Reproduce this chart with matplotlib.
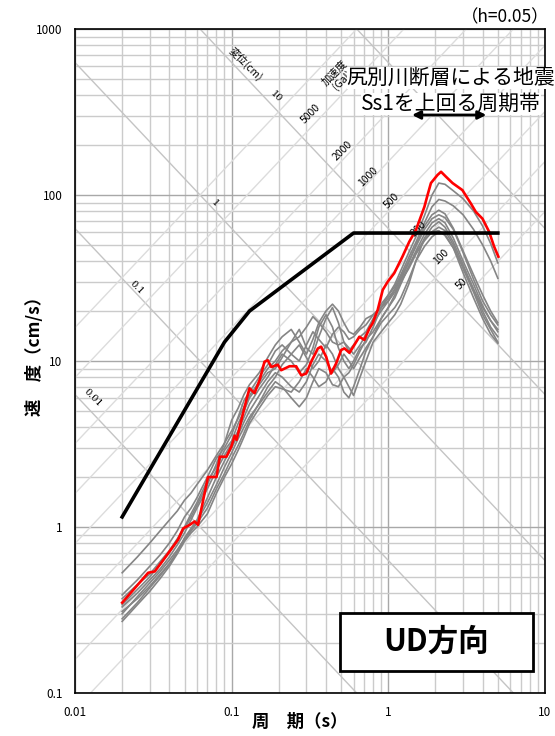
import numpy as np
import matplotlib.pyplot as plt
from matplotlib.patches import Rectangle

plt.rcParams['font.family'] = ['Noto Sans CJK JP', 'DejaVu Sans']

# 周期 (s) for the gray spectra
periods = [0.02, 0.025, 0.03, 0.035, 0.04, 0.045, 0.05, 0.055, 0.06, 0.07,
           0.08, 0.09, 0.10, 0.11, 0.12, 0.13, 0.15, 0.17, 0.19, 0.21,
           0.24, 0.27, 0.30, 0.33, 0.36, 0.40, 0.44, 0.48, 0.52, 0.56,
           0.60, 0.66, 0.72, 0.80, 0.90, 1.0, 1.1, 1.2, 1.35, 1.5,
           1.7, 1.9, 2.1, 2.3, 2.6, 3.0, 3.5, 4.0, 4.5, 5.0]

# 速度 (cm/s), gray cases
g1 = [0.39, 0.48, 0.58, 0.68, 0.80, 0.95, 1.15, 1.3, 1.5, 2.0, 2.6, 3.0, 3.6, 4.6, 5.8, 6.5, 8.0, 9.5, 11.5, 12.5,
      11.0, 10.0, 12.5, 15.0, 13.5, 12.0, 14.5, 16.0, 15.0, 13.5, 14.0, 15.5, 16.5, 19.0, 21.0, 25.0, 29.0, 35.0, 45.0, 56.0,
      75.0, 100.0, 118.0, 116.0, 106.0, 95.0, 80.0, 65.0, 51.0, 39.0]
g2 = [0.37, 0.45, 0.52, 0.62, 0.72, 0.85, 1.0, 1.2, 1.4, 1.9, 2.3, 2.9, 3.3, 4.2, 5.0, 6.0, 7.2, 8.5, 9.0, 10.5,
      13.0, 15.5, 12.0, 11.0, 14.0, 18.0, 21.0, 17.0, 13.0, 11.5, 12.5, 14.0, 15.0, 18.0, 22.0, 25.0, 28.0, 33.0, 42.0, 52.0,
      68.0, 85.0, 94.0, 92.0, 86.0, 76.0, 62.0, 50.0, 40.0, 31.5]
g3 = [0.33, 0.40, 0.48, 0.56, 0.66, 0.78, 0.92, 1.1, 1.3, 1.7, 2.2, 2.7, 3.2, 3.8, 4.6, 5.5, 6.8, 8.0, 9.5, 11.0,
      10.0, 8.5, 9.5, 12.0, 16.0, 19.0, 16.0, 12.0, 10.0, 9.0, 10.0, 12.0, 13.0, 16.0, 21.0, 24.0, 27.0, 31.0, 39.0, 50.0,
      65.0, 76.0, 81.0, 77.0, 63.0, 46.0, 33.0, 25.0, 20.0, 17.0]
g4 = [0.31, 0.37, 0.44, 0.52, 0.60, 0.70, 0.86, 0.98, 1.1, 1.5, 2.0, 2.5, 3.0, 3.6, 4.3, 5.0, 6.2, 7.5, 8.5, 8.0,
      7.0, 6.5, 7.5, 9.5, 11.0, 10.0, 8.5, 9.5, 11.0, 10.0, 9.0, 10.5, 12.0, 14.0, 18.0, 21.0, 24.0, 29.0, 37.0, 46.0,
      58.0, 68.0, 72.0, 68.0, 55.0, 40.0, 29.0, 21.5, 17.5, 15.0]
g5 = [0.30, 0.38, 0.46, 0.54, 0.63, 0.73, 0.85, 0.95, 1.08, 1.4, 1.8, 2.3, 2.8, 3.4, 4.0, 4.6, 5.5, 6.5, 7.5, 7.0,
      6.0, 5.3, 6.0, 7.5, 9.0, 8.5, 7.2, 7.0, 8.0, 7.0, 6.2, 8.0, 10.0, 13.0, 15.0, 17.0, 19.0, 22.0, 29.0, 40.0,
      55.0, 64.0, 69.0, 64.0, 52.0, 38.0, 27.0, 20.0, 16.0, 14.0]
g6 = [0.28, 0.35, 0.43, 0.51, 0.60, 0.71, 0.84, 0.95, 1.05, 1.3, 1.7, 2.1, 2.6, 3.1, 3.7, 4.4, 5.6, 7.0, 8.0, 9.5,
      11.0, 12.5, 10.5, 9.0, 10.0, 12.5, 11.0, 9.0, 8.0, 8.5, 9.5, 11.5, 13.5, 15.0, 18.0, 21.0, 25.0, 30.0, 36.0, 44.0,
      53.0, 60.0, 64.0, 61.0, 50.0, 36.0, 26.0, 19.0, 15.5, 13.0]
g7 = [0.27, 0.34, 0.41, 0.49, 0.58, 0.69, 0.82, 0.92, 1.0, 1.2, 1.6, 2.0, 2.4, 2.9, 3.5, 4.2, 5.2, 6.2, 7.0, 6.8,
      6.5, 7.5, 9.0, 8.0, 7.0, 7.5, 9.0, 8.0, 6.5, 6.0, 7.0, 9.0, 11.5, 14.0, 17.0, 19.0, 21.0, 24.0, 31.0, 40.0,
      49.0, 56.0, 60.0, 58.0, 48.0, 34.0, 24.0, 18.0, 14.5, 12.8]
g8 = [0.34, 0.42, 0.50, 0.60, 0.70, 0.82, 0.98, 1.15, 1.35, 1.8, 2.4, 3.2, 4.4, 5.2, 6.3, 7.2, 8.5, 10.5, 12.5, 14.0,
      15.5, 13.0, 11.0, 13.5, 17.0, 20.0, 22.0, 20.0, 17.0, 15.0, 14.5, 16.0, 18.0, 19.0, 21.0, 23.0, 26.0, 30.0, 37.0, 45.0,
      54.0, 60.0, 61.0, 57.0, 48.0, 37.0, 27.0, 21.0, 17.5, 15.5]
g9 = [0.53, 0.66, 0.80, 0.95, 1.1, 1.25, 1.45, 1.6, 1.8, 2.2, 2.7, 3.2, 3.8, 4.5, 5.3, 6.2, 7.5, 9.0, 10.0, 11.5,
      13.0, 14.0, 16.0, 18.5, 17.0, 15.0, 13.0, 12.5, 13.0, 12.0, 11.0, 12.5, 14.5, 17.0, 20.0, 23.0, 27.0, 32.0, 40.0, 49.0,
      62.0, 72.0, 76.0, 73.0, 62.0, 45.0, 31.0, 23.0, 19.0, 16.5]
gray_cases = [g1, g2, g3, g4, g5, g6, g7, g8, g9]

# 尻別川断層による地震 (red)
red_T = [0.020, 0.0247, 0.0293, 0.0323, 0.0365, 0.0413, 0.0455, 0.049, 0.054, 0.058,
         0.061, 0.0706, 0.080, 0.084, 0.0925, 0.0995, 0.1045, 0.1075, 0.1125, 0.124,
         0.130, 0.140, 0.151, 0.162, 0.170, 0.179, 0.197, 0.207, 0.234, 0.258,
         0.278, 0.299, 0.322, 0.355, 0.372, 0.401, 0.431, 0.465, 0.500, 0.525,
         0.565, 0.607, 0.653, 0.703, 0.757, 0.794, 0.855, 0.921, 0.990, 1.09,
         1.23, 1.36, 1.50, 1.70, 1.78, 1.87, 2.06, 2.17, 2.33, 2.57,
         2.97, 3.36, 3.62, 3.99, 4.40, 4.73, 5.04]
red_V = [0.35, 0.44, 0.53, 0.54, 0.63, 0.74, 0.84, 0.98, 1.03, 1.08,
         1.03, 2.0, 2.0, 2.65, 2.65, 3.05, 3.55, 3.35, 4.0, 5.8,
         6.85, 6.4, 7.7, 9.9, 10.1, 9.2, 9.5, 8.8, 9.3, 9.3,
         8.2, 8.4, 9.9, 11.9, 12.2, 10.6, 8.4, 9.7, 11.65, 11.9,
         11.2, 12.5, 14.0, 13.4, 15.7, 16.9, 20.3, 26.8, 30.0, 33.8,
         42.5, 52.3, 61.5, 85.0, 100.0, 118.0, 132.0, 138.0, 129.0, 118.0,
         107.0, 89.0, 79.0, 72.0, 60.0, 49.0, 42.5]

# Ss1 (black)
ss1_T = [0.02, 0.09, 0.13, 0.6, 5.0]
ss1_V = [1.15, 13.0, 20.0, 59.0, 59.0]

# Ss1を上回る周期帯 (s)
band = [1.36, 4.4]

# tripartite guide lines
disp_lines = [0.01, 0.1, 1, 10, 100]          # cm
acc_lines = [50, 100, 200, 500, 1000, 2000, 5000, 10000]   # Gal
disp_labels = ['0.01', '0.1', '1', '10']
acc_labels = ['5000', '2000', '1000', '500', '200', '100', '50']

fig = plt.figure(figsize=(5.55, 7.36), dpi=100)
ax = fig.add_axes([75 / 555, 1 - 693 / 736, 470 / 555, 664 / 736])
ax.set_xscale('log')
ax.set_yscale('log')
ax.set_xlim(0.01, 10)
ax.set_ylim(0.1, 1000)

ax.set_axisbelow(True)
ax.grid(which='minor', color='#cbcbcb', lw=1.0)
ax.grid(which='major', color='#a8a8a8', lw=1.0)

tt = np.array([0.01, 10.0])
for d in disp_lines:
    ax.plot(tt, 2 * np.pi * d / tt, color='#c4c4c4', lw=1.0, zorder=0.8)
for a in acc_lines:
    ax.plot(tt, a * tt / (2 * np.pi), color='#dcdcdc', lw=1.0, zorder=0.8)

for v in gray_cases:
    ax.plot(periods, v, color='#858585', lw=1.2, zorder=3)
ax.plot(red_T, red_V, color='#ff0000', lw=1.9, zorder=4)
ax.plot(ss1_T, ss1_V, color='black', lw=2.6, zorder=5)

ax.set_xticks([0.01, 0.1, 1, 10], labels=['0.01', '0.1', '1', '10'])
ax.set_yticks([0.1, 1, 10, 100, 1000], labels=['0.1', '1', '10', '100', '1000'])
ax.xaxis.set_minor_formatter(plt.NullFormatter())
ax.yaxis.set_minor_formatter(plt.NullFormatter())
ax.tick_params(which='both', length=0, labelsize=8.5, pad=9)
for s in ax.spines.values():
    s.set_linewidth(1.2)
    s.set_color('black')

# displacement / acceleration labels
disp_pos = [(0.038, 0.444), (0.132, 0.610), (0.298, 0.738), (0.428, 0.898)]
for lab, (x, y) in zip(disp_labels, disp_pos):
    ax.text(x, y, lab, transform=ax.transAxes, rotation=-45, fontsize=7,
            family='DejaVu Serif', ha='center', va='center')
acc_pos = [(0.502, 0.872), (0.570, 0.816), (0.623, 0.777), (0.674, 0.742),
           (0.730, 0.699), (0.779, 0.657), (0.823, 0.616)]
for lab, (x, y) in zip(acc_labels, acc_pos):
    ax.text(x, y, lab, transform=ax.transAxes, rotation=45, fontsize=7.5,
            ha='center', va='center')
ax.text(0.364, 0.947, '変位(cm)', transform=ax.transAxes, rotation=-45,
        fontsize=7.5, ha='center', va='center')
ax.text(0.560, 0.928, '加速度\n(Gal)', transform=ax.transAxes, rotation=45,
        fontsize=7.5, ha='center', va='center', linespacing=1.0)

# title block
ax.text(0.800, 0.926, '尻別川断層による地震', transform=ax.transAxes, fontsize=15,
        ha='center', va='center', zorder=6, clip_on=False,
        bbox=dict(fc='white', ec='none', pad=0))
ax.text(0.800, 0.887, 'Ss1を上回る周期帯', transform=ax.transAxes, fontsize=15,
        ha='center', va='center', zorder=6, clip_on=False,
        bbox=dict(fc='white', ec='none', pad=0))
ax.annotate('', xy=(band[1], 0.8705), xytext=(band[0], 0.8705),
            xycoords=('data', 'axes fraction'), textcoords=('data', 'axes fraction'),
            arrowprops=dict(arrowstyle='<|-|>', color='black', lw=2, mutation_scale=12),
            zorder=7)
ax.text(0.915, 1.018, '（h=0.05）', transform=ax.transAxes, fontsize=12.5,
        ha='center', va='center')

ax.add_patch(Rectangle((0.564, 0.033), 0.41, 0.0875, transform=ax.transAxes,
                       fc='white', ec='black', lw=2, zorder=6))
ax.text(0.769, 0.077, 'UD方向', transform=ax.transAxes, fontsize=22,
        fontweight='bold', ha='center', va='center', zorder=7)

fig.text(300 / 555, 1 - 722 / 736, '周　期（s）', fontsize=12.5, fontweight='bold',
         ha='center', va='center')
fig.text(35 / 555, 1 - 352 / 736, '速　度（cm/s）', fontsize=12.5, fontweight='bold',
         rotation=90, ha='center', va='center')

plt.savefig('out.png', dpi=100)
